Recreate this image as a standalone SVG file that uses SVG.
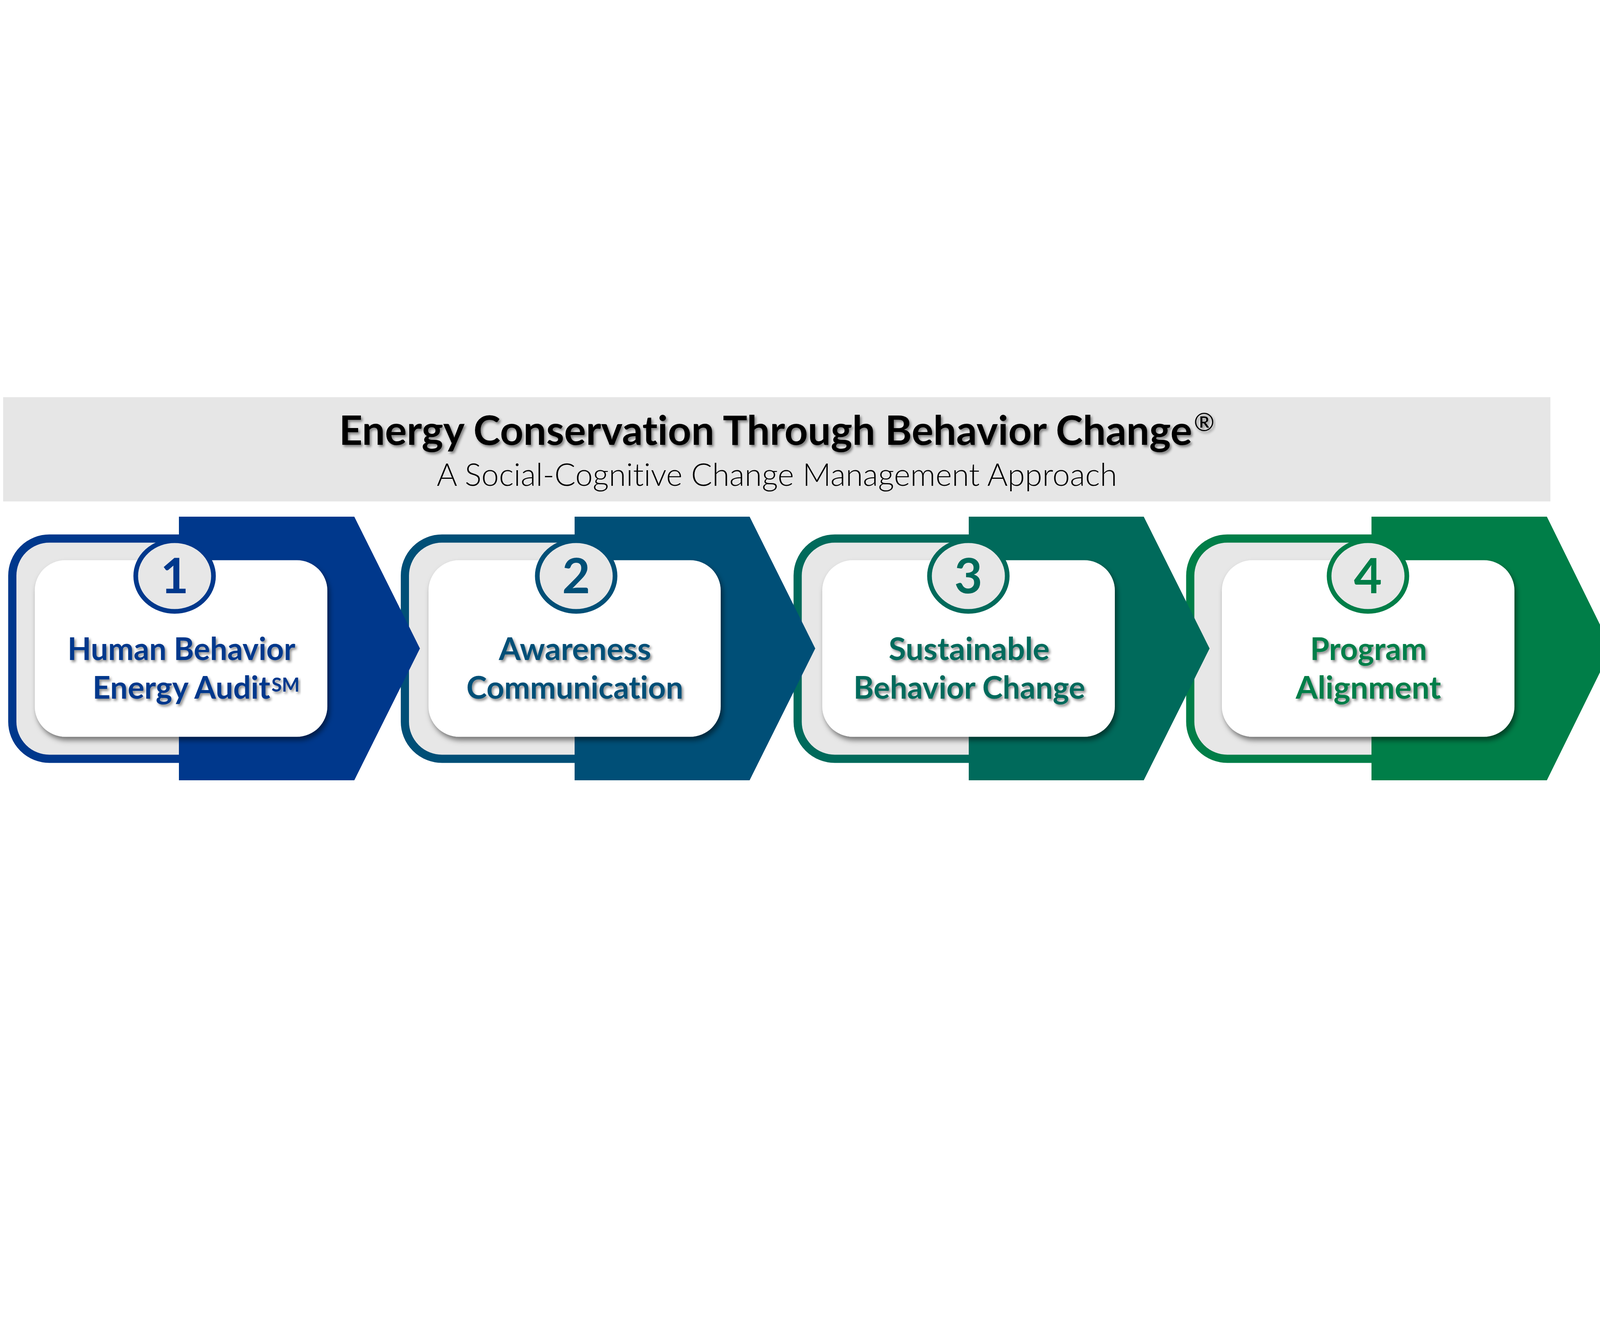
<svg xmlns="http://www.w3.org/2000/svg" width="4128" height="3380" viewBox="0 0 4128 3380">
<defs>
<style>
text{font-variant-ligatures:none;font-feature-settings:"liga" 0,"clig" 0}
.lbl{font-family:Lato,"Open Sans","DejaVu Sans",sans-serif;font-weight:700;font-size:80px;filter:url(#tsh)}
.num{font-family:Lato,"Open Sans","DejaVu Sans",sans-serif;font-weight:700;font-size:124px;text-anchor:middle}
.outl{fill:#e7e7e7;stroke-width:21}
.card{fill:#ffffff;filter:url(#rsh)}
.badge{fill:#e7e7e7;stroke-width:12}
</style>
<filter id="tsh" x="-5%" y="-30%" width="110%" height="170%">
<feDropShadow dx="4" dy="5" stdDeviation="3" flood-color="#000" flood-opacity="0.45"/>
</filter>
<filter id="rsh" x="-10%" y="-10%" width="125%" height="130%">
<feDropShadow dx="5" dy="9" stdDeviation="7" flood-color="#000" flood-opacity="0.5"/>
</filter>
</defs>
<rect x="0" y="0" width="4128" height="3380" fill="#ffffff"/>

<g id="header">
<rect x="8" y="1017" width="3961" height="267" fill="#e6e6e6"/>
<text x="868" y="1139" font-family="Lato,'Open Sans','DejaVu Sans',sans-serif" font-weight="700" font-size="103" fill="#000" textLength="2184" lengthAdjust="spacingAndGlyphs" filter="url(#tsh)">Energy Conservation Through Behavior Change</text>
<text x="3056" y="1104" font-family="Lato,'Open Sans','DejaVu Sans',sans-serif" font-weight="400" font-size="64" fill="#000" filter="url(#tsh)">®</text>
<text x="1118" y="1244" font-family="Lato,'Open Sans','DejaVu Sans',sans-serif" font-weight="300" font-size="81" fill="#000" textLength="1742" lengthAdjust="spacingAndGlyphs">A Social-Cognitive Change Management Approach</text>
</g>

<g id="step4">
<rect class="outl" x="3047" y="1379" width="600" height="564" rx="95" stroke="#007e48"/>
<polygon points="3511,1323 3960,1323 4126,1660.5 3960,1998 3511,1998" fill="#007e48"/>
<rect class="card" x="3128" y="1434.5" width="749" height="452" rx="78"/>
<ellipse class="badge" cx="3502" cy="1475" rx="99.5" ry="90.5" stroke="#007e48"/>
<text class="num" x="3502" y="1519" fill="#007e48">4</text>
<text class="lbl" x="3354" y="1690" fill="#007e48" textLength="299" lengthAdjust="spacingAndGlyphs">Program</text>
<text class="lbl" x="3317" y="1789" fill="#007e48" textLength="372" lengthAdjust="spacingAndGlyphs">Alignment</text>
</g>

<g id="step3">
<rect class="outl" x="2042" y="1379" width="600" height="564" rx="95" stroke="#006a5b"/>
<polygon points="2480,1323 2928,1323 3096.5,1660.5 2928,1998 2480,1998" fill="#006a5b"/>
<rect class="card" x="2105" y="1434.5" width="749" height="452" rx="78"/>
<ellipse class="badge" cx="2479" cy="1475" rx="99.5" ry="90.5" stroke="#006a5b"/>
<text class="num" x="2479" y="1519" fill="#006a5b">3</text>
<text class="lbl" x="2275" y="1690" fill="#006a5b" textLength="412" lengthAdjust="spacingAndGlyphs">Sustainable</text>
<text class="lbl" x="2185" y="1789" fill="#006a5b" textLength="593" lengthAdjust="spacingAndGlyphs">Behavior Change</text>
</g>

<g id="step2">
<rect class="outl" x="1036.5" y="1379" width="600" height="564" rx="95" stroke="#004f77"/>
<polygon points="1471,1323 1919,1323 2087,1660.5 1919,1998 1471,1998" fill="#004f77"/>
<rect class="card" x="1097" y="1434.5" width="748" height="452" rx="78"/>
<ellipse class="badge" cx="1475" cy="1475" rx="99.5" ry="90.5" stroke="#004f77"/>
<text class="num" x="1475" y="1519" fill="#004f77">2</text>
<text class="lbl" x="1277" y="1690" fill="#004f77" textLength="390" lengthAdjust="spacingAndGlyphs">Awareness</text>
<text class="lbl" x="1194" y="1789" fill="#004f77" textLength="555" lengthAdjust="spacingAndGlyphs">Communication</text>
</g>

<g id="step1">
<rect class="outl" x="31.5" y="1379" width="600" height="564" rx="95" stroke="#00388c"/>
<polygon points="458,1323 907,1323 1075,1660.5 907,1998 458,1998" fill="#00388c"/>
<rect class="card" x="89" y="1434.5" width="749" height="452" rx="78"/>
<ellipse class="badge" cx="447" cy="1475" rx="99.5" ry="90.5" stroke="#00388c"/>
<text class="num" x="447" y="1519" fill="#00388c">1</text>
<text class="lbl" x="173" y="1690" fill="#00388c" textLength="583" lengthAdjust="spacingAndGlyphs">Human Behavior</text>
<text class="lbl" x="237" y="1789" fill="#00388c" textLength="455" lengthAdjust="spacingAndGlyphs">Energy Audit</text>
<text class="lbl" x="695" y="1771" fill="#00388c" style="font-size:49px" textLength="72" lengthAdjust="spacingAndGlyphs">SM</text>
</g>

<g id="connectors"></g>
</svg>
